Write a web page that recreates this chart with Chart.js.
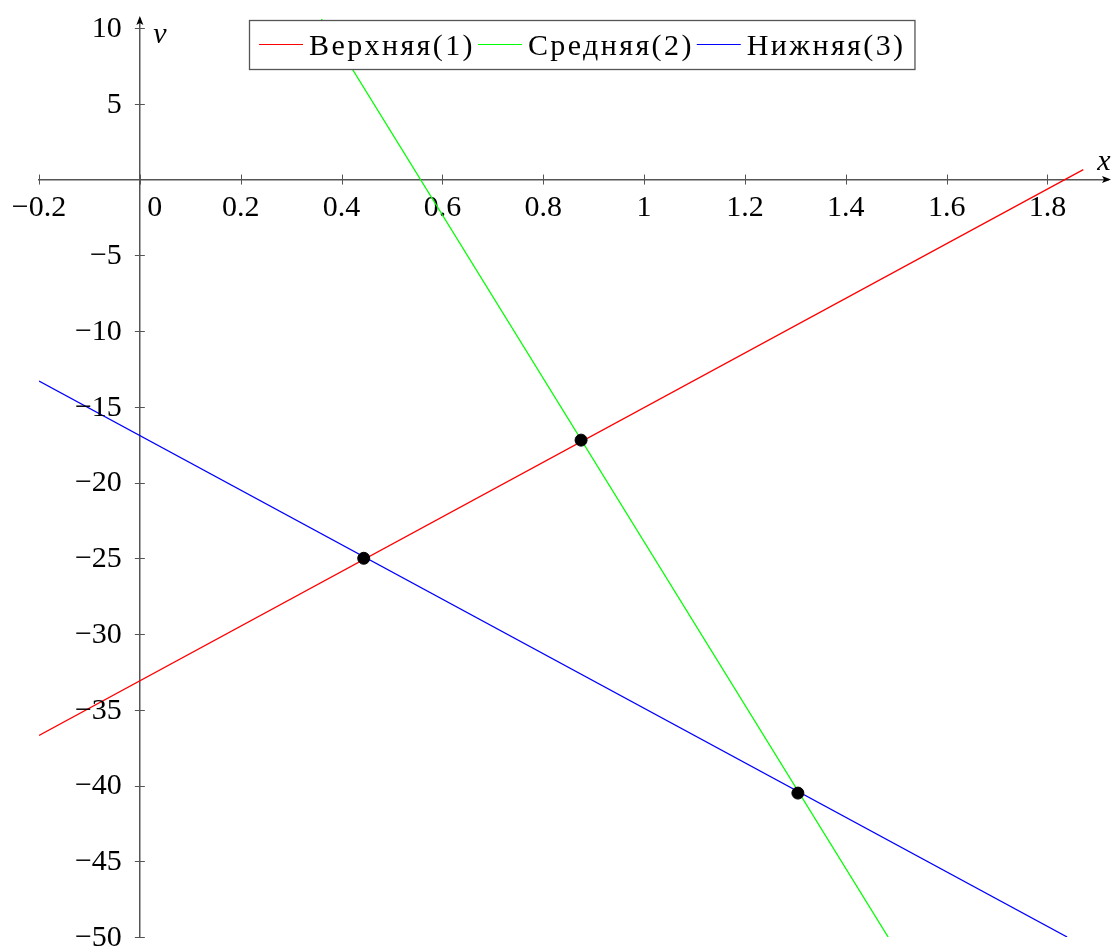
<!DOCTYPE html>
<html>
<head>
<meta charset="utf-8">
<script src="https://cdn.jsdelivr.net/npm/chart.js@4.4.1/dist/chart.umd.min.js"></script>
<style>
    html, body { margin: 0; padding: 0; background: #fff; }
    #wrap { width: 1115px; height: 947px; }
</style>
</head>
<body>
<div id="wrap"><canvas id="chartRectas" width="1115" height="947"></canvas></div>
<script>
// Datos
const etiquetasSeries = ['Верхняя(1)', 'Средняя(2)', 'Нижняя(3)'];
const coloresSeries = ['#ff0000', '#00ff00', '#0000ff'];

const superiorX = [-0.2, 1.871];
const superiorY = [-36.7, 0.66];
const mediaX = [0.36, 1.484];
const mediaY = [10.6, -50];
const inferiorX = [-0.2, 1.839];
const inferiorY = [-13.3, -50];

const cortesX = [0.444, 0.875, 1.305];
const cortesY = [-25, -17.2, -40.5];

const ticksX = [-0.2, 0, 0.2, 0.4, 0.6, 0.8, 1, 1.2, 1.4, 1.6, 1.8];
const ticksY = [10, 5, -5, -10, -15, -20, -25, -30, -35, -40, -45, -50];

const colorEje = '#555';
const fuente = '"Liberation Serif", "Times New Roman", serif';

function puntos(xs, ys) {
    return xs.map((x, i) => ({ x, y: ys[i] }));
}

function formatearTick(v) {
    if (v < 0) return '\u2212' + Math.abs(v);
    return String(v);
}

const ejesDecorados = {
    id: 'ejesDecorados',
    afterDraw(chart) {
        const { ctx, chartArea, scales: { x, y } } = chart;
        const x0 = x.getPixelForValue(0);
        const y0 = y.getPixelForValue(0);
        ctx.save();
        ctx.strokeStyle = colorEje;
        ctx.lineWidth = 1;
        ctx.beginPath();
        x.ticks.forEach(t => {
            const px = Math.round(x.getPixelForValue(t.value)) + 0.5;
            ctx.moveTo(px, y0 - 5);
            ctx.lineTo(px, y0 + 5);
        });
        y.ticks.forEach(t => {
            const py = Math.round(y.getPixelForValue(t.value)) + 0.5;
            ctx.moveTo(x0 - 5, py);
            ctx.lineTo(x0 + 5, py);
        });
        ctx.stroke();

        // etiquetas del eje vertical, a la izquierda de x = 0
        ctx.fillStyle = '#000';
        ctx.font = '30px ' + fuente;
        ctx.textAlign = 'right';
        ctx.textBaseline = 'middle';
        y.ticks.forEach(t => {
            ctx.fillText(formatearTick(t.value), x0 - 18, y.getPixelForValue(t.value) + 1);
        });

        // flechas
        ctx.beginPath();
        ctx.moveTo(x0, chartArea.top - 3);
        ctx.lineTo(x0 - 3.5, chartArea.top + 6);
        ctx.lineTo(x0, chartArea.top + 4);
        ctx.lineTo(x0 + 3.5, chartArea.top + 6);
        ctx.closePath();
        ctx.fill();
        ctx.beginPath();
        ctx.moveTo(chartArea.right + 3, y0);
        ctx.lineTo(chartArea.right - 6, y0 - 3.5);
        ctx.lineTo(chartArea.right - 4, y0);
        ctx.lineTo(chartArea.right - 6, y0 + 3.5);
        ctx.closePath();
        ctx.fill();

        // nombres de los ejes
        ctx.font = 'italic 30px ' + fuente;
        ctx.textAlign = 'center';
        ctx.textBaseline = 'alphabetic';
        ctx.fillText('v', x0 + 20, chartArea.top + 24);
        ctx.fillText('x', chartArea.right - 4, y0 - 10);
        ctx.restore();
    }
};

const leyendaCaja = {
    id: 'leyendaCaja',
    afterDraw(chart) {
        const { ctx, chartArea } = chart;
        const items = chart.data.datasets.filter(d => etiquetasSeries.includes(d.label));
        ctx.save();
        ctx.font = '30px ' + fuente;
        ctx.letterSpacing = '2.4px';
        const muestra = 44, sepTexto = 6, sepItem = 3, padIzq = 10, padDer = 9, alto = 49;
        const anchos = items.map(d => ctx.measureText(d.label).width);
        let total = padIzq + padDer + sepItem * (items.length - 1);
        anchos.forEach(w => { total += muestra + sepTexto + w; });
        const izq = Math.round((chartArea.left + chartArea.right) / 2 - total / 2) + 8;
        const arriba = Math.round(chartArea.top) + 1;
        ctx.fillStyle = '#fff';
        ctx.fillRect(izq, arriba, total, alto);
        ctx.strokeStyle = colorEje;
        ctx.lineWidth = 1.3;
        ctx.strokeRect(izq + 0.5, arriba + 0.5, total, alto);
        let cx = izq + padIzq;
        const cy = arriba + 24.5;
        items.forEach((d, i) => {
            ctx.strokeStyle = d.borderColor;
            ctx.lineWidth = 1.2;
            ctx.beginPath();
            ctx.moveTo(cx, cy);
            ctx.lineTo(cx + muestra, cy);
            ctx.stroke();
            cx += muestra + sepTexto;
            ctx.fillStyle = '#000';
            ctx.textBaseline = 'alphabetic';
            ctx.fillText(d.label, cx, arriba + 35);
            cx += anchos[i] + sepItem;
        });
        ctx.restore();
    }
};

const ctx = document.getElementById('chartRectas').getContext('2d');

new Chart(ctx, {
    type: 'line',
    data: {
        datasets: [
            {
                type: 'scatter',
                label: 'cortes',
                data: puntos(cortesX, cortesY),
                backgroundColor: '#000',
                borderColor: '#000',
                pointRadius: 6,
                order: 0
            },
            {
                label: etiquetasSeries[0],
                data: puntos(superiorX, superiorY),
                borderColor: coloresSeries[0],
                borderWidth: 1.3,
                pointRadius: 0,
                fill: false,
                order: 1
            },
            {
                label: etiquetasSeries[1],
                data: puntos(mediaX, mediaY),
                borderColor: coloresSeries[1],
                borderWidth: 1.3,
                pointRadius: 0,
                fill: false,
                order: 1
            },
            {
                label: etiquetasSeries[2],
                data: puntos(inferiorX, inferiorY),
                borderColor: coloresSeries[2],
                borderWidth: 1.3,
                pointRadius: 0,
                fill: false,
                order: 1
            }
        ]
    },
    options: {
        responsive: false,
        animation: false,
        devicePixelRatio: 1,
        layout: { padding: { left: 39, right: 2, top: 19, bottom: 10 } },
        plugins: {
            legend: { display: false },
            tooltip: { enabled: false }
        },
        scales: {
            x: {
                type: 'linear',
                min: -0.2,
                max: 1.92,
                position: { y: 0 },
                afterBuildTicks: axis => { axis.ticks = ticksX.map(value => ({ value })); },
                grid: {
                    display: true,
                    drawOnChartArea: false,
                    drawTicks: true,
                    tickLength: 14,
                    tickColor: 'rgba(0,0,0,0)'
                },
                border: { display: true, color: colorEje, width: 1.5 },
                ticks: {
                    color: '#000',
                    padding: 0,
                    maxRotation: 0,
                    autoSkip: false,
                    font: { family: fuente, size: 30, lineHeight: 1 },
                    callback: v => (v === 0 ? '\u2003' + '0' : formatearTick(v))
                }
            },
            y: {
                type: 'linear',
                min: -50,
                max: 10.6,
                position: { x: 0 },
                afterBuildTicks: axis => { axis.ticks = ticksY.map(value => ({ value })); },
                grid: { display: true, drawOnChartArea: false, drawTicks: false },
                border: { display: true, color: colorEje, width: 1.5 },
                ticks: { display: false }
            }
        }
    },
    plugins: [ejesDecorados, leyendaCaja]
});
</script>
</body>
</html>
